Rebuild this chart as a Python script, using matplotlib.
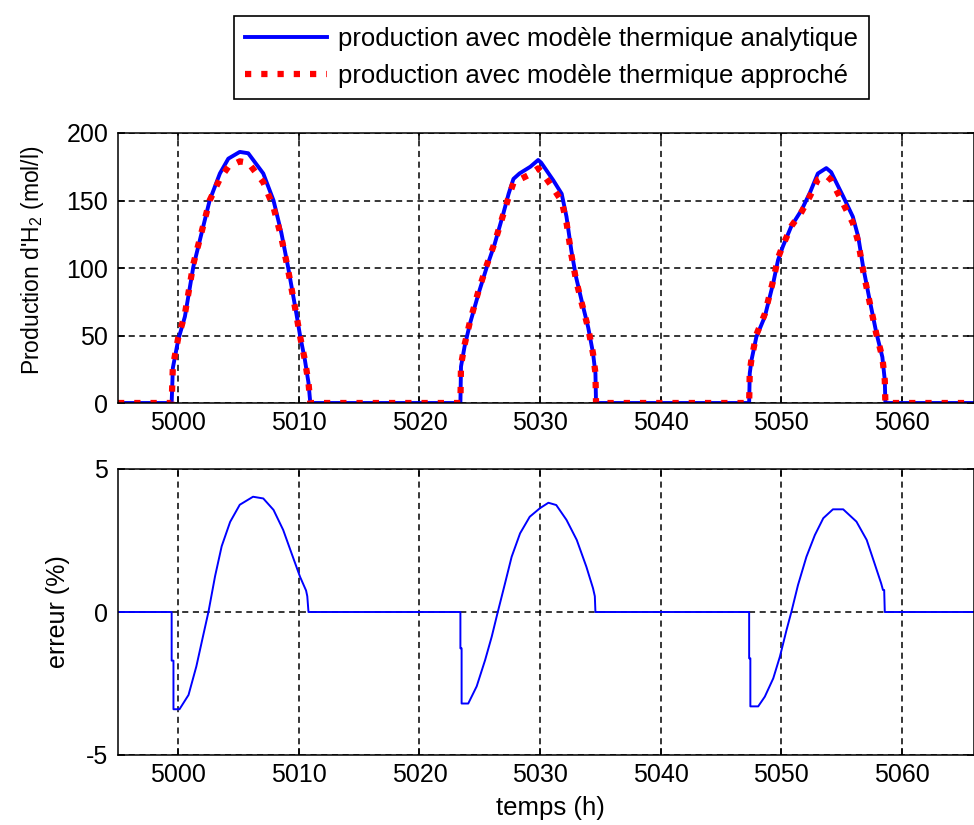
import numpy as np
import matplotlib.pyplot as plt

# production d'H2 sur trois jours, modele analytique vs approche + erreur relative

t_prod = [4995, 4999.45, 4999.55, 5000.0, 5000.55, 5001.25, 5001.8, 5002.6, 5003.45, 5004.15,
          5005.1, 5005.8, 5007.05, 5007.9, 5008.55, 5009.1, 5009.8, 5010.1, 5010.5, 5010.8, 5010.95,
          5023.4, 5023.45, 5023.75, 5024.2, 5024.9, 5025.6, 5026.25, 5026.95, 5027.4, 5027.8,
          5028.3, 5029.2, 5029.85, 5030.1, 5031.1, 5031.8, 5032.2, 5032.6, 5033.0, 5033.45,
          5034.0, 5034.4, 5034.6, 5034.65,
          5047.35, 5047.4, 5047.55, 5047.95, 5048.65, 5049.35, 5049.75, 5050.15, 5050.85, 5051.7,
          5052.4, 5053.05, 5053.75, 5054.15, 5055.15, 5055.95, 5056.4, 5056.8, 5057.35, 5057.9,
          5058.4, 5058.6, 5058.65, 5066]

prod_analytique = [0, 0, 26, 47, 64, 101, 121, 150, 170, 181,
                   186, 185, 170, 150, 126, 101, 66, 50, 32, 15, 0,
                   0, 27, 42, 59, 81, 101, 118, 140, 155, 166,
                   170, 175, 180, 178, 165, 155, 138, 113, 93, 76,
                   56, 37, 22, 0,
                   0, 22, 32, 49, 64, 89, 106, 116, 131, 143,
                   156, 170, 174, 171, 153, 138, 123, 101, 76, 52,
                   34, 17, 0, 0]

prod_approche = [0, 0, 27, 48.5, 66, 103, 122, 150, 166, 175,
                 179, 178, 163.5, 145, 122.5, 99, 65, 49.4, 31.8, 15, 0,
                 0, 28, 43.3, 60.5, 83, 102.5, 119, 139.5, 152.5, 163,
                 165.5, 169.5, 173.8, 171.5, 159, 149.5, 133.7, 110, 90.8, 74.5,
                 55.4, 36.7, 22, 0,
                 0, 23, 33, 50.6, 66, 91, 107.6, 116.8, 131, 141.6,
                 153.3, 165.6, 168.4, 165.3, 147.7, 133.4, 119.3, 98.2, 74.4, 51.1,
                 33.7, 16.9, 0, 0]

t_err = [4995, 4999.45, 4999.45, 4999.6, 4999.6, 5000.1, 5000.85, 5001.5, 5002.05, 5002.5,
         5003.05, 5003.6, 5004.3, 5005.1, 5006.2, 5007.05, 5007.9, 5008.7, 5009.5, 5010.1,
         5010.6, 5010.7, 5010.8,
         5023.4, 5023.4, 5023.5, 5023.5, 5024.05, 5024.75, 5025.45, 5026.0, 5026.5, 5027.1,
         5027.65, 5028.35, 5029.15, 5030.0, 5030.7, 5031.35, 5032.2, 5033.05, 5033.85, 5034.4,
         5034.55, 5034.6,
         5047.35, 5047.35, 5047.45, 5047.45, 5048.1, 5048.65, 5049.35, 5049.9, 5050.45, 5050.85,
         5051.4, 5052.1, 5052.8, 5053.5, 5054.3, 5055.15, 5056.25, 5057.1, 5057.75, 5058.3,
         5058.45, 5058.55, 5058.6, 5066]

erreur = [0, 0, -1.7, -1.7, -3.4, -3.4, -2.9, -1.9, -0.85, 0,
          1.25, 2.3, 3.15, 3.75, 4.03, 3.97, 3.57, 2.87, 1.93, 1.23,
          0.75, 0.55, 0,
          0, -1.27, -1.27, -3.2, -3.2, -2.6, -1.68, -0.86, 0, 1.0,
          1.93, 2.75, 3.33, 3.63, 3.82, 3.74, 3.22, 2.52, 1.58, 0.83,
          0.55, 0,
          0, -1.62, -1.62, -3.3, -3.3, -2.96, -2.32, -1.56, -0.63, 0,
          0.94, 1.93, 2.69, 3.28, 3.59, 3.59, 3.16, 2.52, 1.7, 1.0,
          0.77, 0.77, 0, 0]

x_ticks = [5000, 5010, 5020, 5030, 5040, 5050, 5060]

plt.rcParams['font.family'] = ['Liberation Sans', 'DejaVu Sans']
plt.rcParams['mathtext.fontset'] = 'custom'
plt.rcParams['mathtext.rm'] = 'Liberation Sans'
plt.rcParams['mathtext.it'] = 'Liberation Sans:italic'
plt.rcParams['font.size'] = 18
plt.rcParams['axes.unicode_minus'] = False


def style_axes(ax):
    ax.set_xlim(4995, 5066)
    ax.set_xticks(x_ticks)
    ax.grid(True, color='black', linestyle=(0, (4, 3)), linewidth=1.1)
    ax.set_axisbelow(True)
    ax.tick_params(direction='in', top=True, right=True, length=5, width=1.1,
                   labelsize=18)
    ax.tick_params(axis='x', pad=6)
    ax.tick_params(axis='y', pad=7)
    for sp in ax.spines.values():
        sp.set_linewidth(1.1)


fig = plt.figure(figsize=(9.74, 8.25), dpi=100)
ax1 = fig.add_axes([118 / 974, 1 - 403 / 825, 856 / 974, 270 / 825])
ax2 = fig.add_axes([118 / 974, 1 - 755 / 825, 856 / 974, 286 / 825])

l1, = ax1.plot(t_prod, prod_analytique, color='#0000ff', linewidth=2.8)
l2, = ax1.plot(t_prod, prod_approche, color='#ff0000', linewidth=4.5,
               linestyle=(0, (1, 1.6)))
ax1.set_ylim(0, 200)
ax1.set_yticks([0, 50, 100, 150, 200])
style_axes(ax1)
ax1.set_ylabel("Production d'H$_2$ (mol/l)", fontsize=16.5)
ax1.yaxis.set_label_coords(-0.084, 0.53)

ax2.plot(t_err, erreur, color='#0000ff', linewidth=1.4)
ax2.set_ylim(-5, 5)
ax2.set_yticks([-5, 0, 5])
style_axes(ax2)
ax2.set_ylabel('erreur (%)', fontsize=18)
ax2.yaxis.set_label_coords(-0.056, 0.5)
ax2.set_xlabel('temps (h)', fontsize=18.5)
ax2.xaxis.set_label_coords(0.505, -0.145)

leg = fig.legend([l1, l2],
                 ['production avec modèle thermique analytique',
                  'production avec modèle thermique approché'],
                 loc='center', bbox_to_anchor=(551.5 / 974, 1 - 57.5 / 825),
                 fontsize=18.5, handlelength=3.2, handletextpad=0.4,
                 fancybox=False, framealpha=1, edgecolor='black',
                 borderpad=0.45, labelspacing=0.48)
leg.get_frame().set_linewidth(1.2)

fig.savefig('out.png', dpi=100)
